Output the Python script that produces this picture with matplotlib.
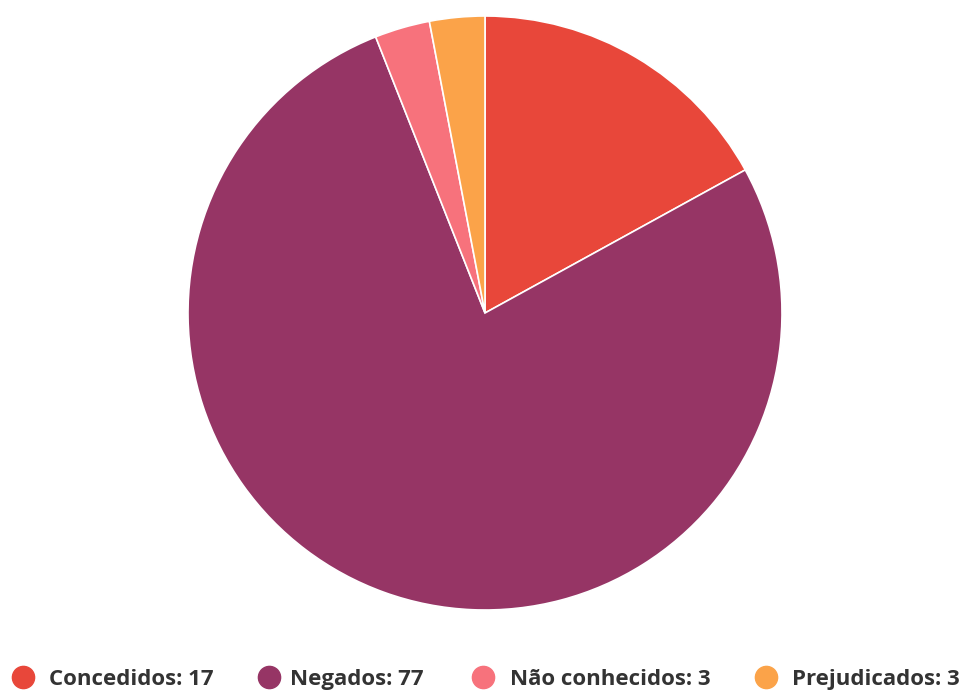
import matplotlib
matplotlib.use("Agg")
import matplotlib.pyplot as plt
from matplotlib.lines import Line2D

labels = ["Concedidos", "Negados", "Não conhecidos", "Prejudicados"]
values = [17, 77, 3, 3]
colors = ["#E8473A", "#963565", "#F7727C", "#FBA349"]

plt.rcParams['font.family'] = ['Open Sans', 'DejaVu Sans']

W, H = 965, 690
fig = plt.figure(figsize=(W / 100, H / 100), dpi=100)
cx, cy, r = 485, 313, 297
ax = fig.add_axes([(cx - r) / W, (H - cy - r) / H, 2 * r / W, 2 * r / H])
ax.pie(values, colors=colors, startangle=90, counterclock=False,
       wedgeprops=dict(edgecolor="white", linewidth=1.2), radius=1)
ax.set_xlim(-1, 1)
ax.set_ylim(-1, 1)
ax.set_aspect("equal")
ax.axis("off")

# legend layout (pixel positions from the top-left)
marker_x = [23, 269, 483, 766]
text_x = [49, 290, 510, 792]
leg_y_marker = 677
leg_y_base = 685
for mx, tx, l, v, c in zip(marker_x, text_x, labels, values, colors):
    fig.add_artist(Line2D([mx / W], [1 - leg_y_marker / H], marker="o", markersize=16,
                          markerfacecolor=c, markeredgecolor=c, linestyle="none",
                          transform=fig.transFigure))
    fig.text(tx / W, 1 - leg_y_base / H, f"{l}: {v}", fontsize=16, fontweight="bold",
             color="#333333", ha="left", va="baseline")

fig.savefig("out.png", dpi=100, facecolor="white")
